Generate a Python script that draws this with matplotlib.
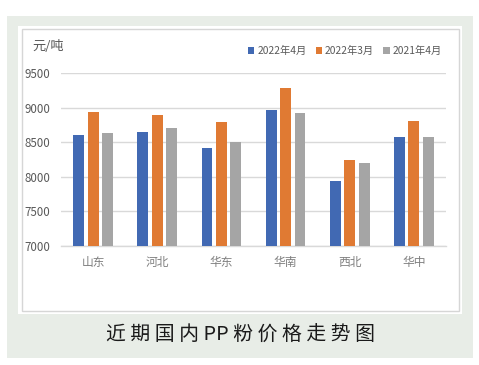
import matplotlib
matplotlib.use("Agg")
import matplotlib.pyplot as plt
from matplotlib.patches import Rectangle
import numpy as np

plt.rcParams['font.family'] = ['Noto Sans CJK SC', 'DejaVu Sans']

regions = ["山东", "河北", "华东", "华南", "西北", "华中"]
series_names = ["2022年4月", "2022年3月", "2021年4月"]
apr_2022 = [8610, 8650, 8420, 8970, 7940, 8580]
mar_2022 = [8935, 8900, 8785, 9280, 8245, 8810]
apr_2021 = [8635, 8700, 8510, 8925, 8205, 8580]
y_ticks = [7000, 7500, 8000, 8500, 9000, 9500]
unit_label = "元/吨"
title = "近期国内PP粉价格走势图"

colors = ["#4169b3", "#e07a33", "#a5a5a5"]

W, H = 479, 365
fig = plt.figure(figsize=(W / 100, H / 100), dpi=100)
fig.patch.set_facecolor("white")

def fr(x0, y0, x1, y1, **kw):
    return Rectangle((x0 / W, 1 - y1 / H), (x1 - x0) / W, (y1 - y0) / H,
                     transform=fig.transFigure, **kw)

fig.patches.append(fr(7, 16, 473, 358, facecolor="#e8ede7", edgecolor="none", zorder=-3))
fig.patches.append(fr(18, 26, 462, 314, facecolor="white", edgecolor="none", zorder=-2))
fig.patches.append(fr(22, 29, 459, 311, facecolor="none", edgecolor="#d6d6d6", linewidth=1.0, zorder=-1))

ax = fig.add_axes([61 / W, 1 - 246 / H, (446 - 61) / W, (246 - 73) / H])
ax.set_facecolor("none")

x = np.arange(len(regions))
step = 0.224
width = 0.17
for i, (vals, c, name) in enumerate(zip([apr_2022, mar_2022, apr_2021], colors, series_names)):
    ax.bar(x + (i - 1) * step, vals, width=width, color=c, label=name, zorder=3)

ax.set_ylim(7000, 9500)
ax.set_xlim(-0.5, len(regions) - 0.5)
ax.set_yticks(y_ticks)
ax.set_yticklabels([str(v) for v in y_ticks], fontsize=8.3, color="#595959")
ax.set_xticks(x)
ax.set_xticklabels(regions, fontsize=8.5, color="#7f7f7f")
ax.tick_params(axis="both", length=0)
ax.tick_params(axis="y", pad=8)
ax.tick_params(axis="x", pad=7)
ax.grid(axis="y", color="#d9d9d9", linewidth=1.0, zorder=0)
for s in ["top", "right", "left"]:
    ax.spines[s].set_visible(False)
ax.spines["bottom"].set_color("#d9d9d9")
ax.spines["bottom"].set_linewidth(1.0)

fig.text(32 / W, 1 - 47 / H, unit_label, fontsize=9.5, color="#595959", va="center", ha="left")

leg = fig.legend(loc="center right", bbox_to_anchor=(446 / W, 1 - 51 / H), ncol=3,
                 frameon=False, fontsize=7.4, handlelength=0.6, handleheight=0.6,
                 handletextpad=0.3, columnspacing=0.9, borderaxespad=0)
for t in leg.get_texts():
    t.set_color("#595959")

fig.text(240 / W, 1 - 335 / H, " ".join(title.replace("PP", "\x00")).replace("\x00", "PP"),
         fontsize=14.3, color="#1a1a1a", ha="center", va="center", fontweight="medium")

fig.savefig("out.png", dpi=100)
